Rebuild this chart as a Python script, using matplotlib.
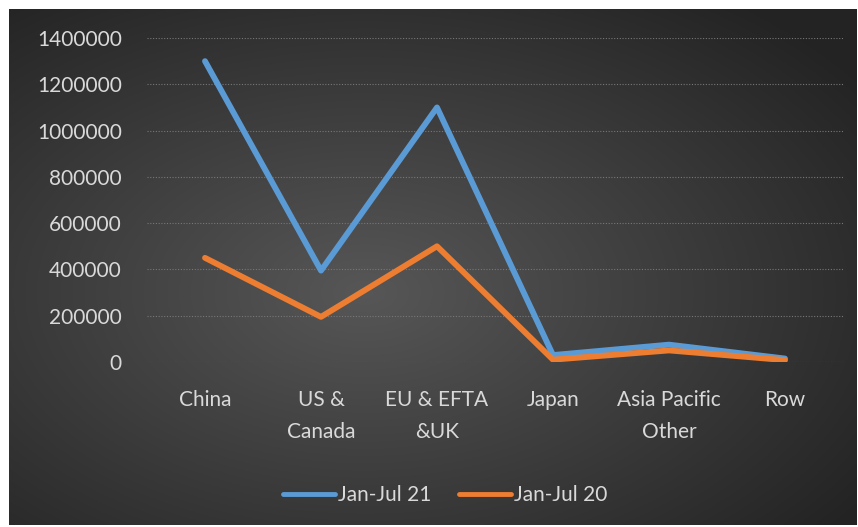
import matplotlib
matplotlib.use("Agg")
import matplotlib.pyplot as plt
import numpy as np

regions = ["China", "US &\nCanada", "EU & EFTA\n&UK", "Japan", "Asia Pacific\nOther", "Row"]
jan_jul_21 = [1300000, 395000, 1100000, 30000, 75000, 15000]
jan_jul_20 = [450000, 195000, 500000, 10000, 50000, 8000]
yticks = [0, 200000, 400000, 600000, 800000, 1000000, 1200000, 1400000]

text_col = "#d9d9d9"
plt.rcParams["font.family"] = ["Lato", "DejaVu Sans"]

fig = plt.figure(figsize=(8.58, 5.27), dpi=100, facecolor="white")

# dark radial-gradient panel behind the chart
bg = fig.add_axes([9 / 858, 2 / 527, 847 / 858, 516 / 527])
gx, gy = np.meshgrid(np.linspace(0, 1, 400), np.linspace(0, 1, 250))
r = np.sqrt(((gx - 0.42) / 0.75) ** 2 + ((gy - 0.55) / 0.75) ** 2)
shade = np.clip(0.34 - 0.21 * r, 0.14, 0.34)
bg.imshow(np.dstack([shade] * 3), aspect="auto", extent=[0, 1, 0, 1], origin="upper")
bg.set_axis_off()

ax = fig.add_axes([147 / 858, 1 - 362 / 527, 696 / 858, 324 / 527])
ax.patch.set_alpha(0)
x = np.arange(len(regions))
ax.plot(x, jan_jul_21, color="#5b9bd5", lw=4.2, solid_capstyle="round",
        solid_joinstyle="round", label="Jan-Jul 21", zorder=3)
ax.plot(x, jan_jul_20, color="#ed7d31", lw=4.2, solid_capstyle="round",
        solid_joinstyle="round", label="Jan-Jul 20", zorder=4)

ax.set_xlim(-0.5, len(regions) - 0.5)
ax.set_ylim(0, 1400000)
ax.set_yticks(yticks)
ax.set_yticklabels([str(v) for v in yticks])
ax.set_xticks(x)
ax.set_xticklabels(regions, linespacing=1.75)
ax.grid(axis="y", color="#777777", lw=0.8, ls=(0, (1, 1.5)))
ax.set_axisbelow(True)
for s in ax.spines.values():
    s.set_visible(False)
ax.tick_params(axis="both", length=0, colors=text_col, labelsize=15)
ax.tick_params(axis="x", pad=20)
ax.tick_params(axis="y", pad=18)

leg = fig.legend(loc="center", bbox_to_anchor=(445 / 858, 1 - 495 / 527), ncol=2,
                 frameon=False, fontsize=15, handlelength=2.5, handletextpad=0.15,
                 columnspacing=1.3)
for t in leg.get_texts():
    t.set_color(text_col)
for h in leg.legend_handles:
    h.set_linewidth(3.5)

fig.savefig("out.png", dpi=100, facecolor="white")
